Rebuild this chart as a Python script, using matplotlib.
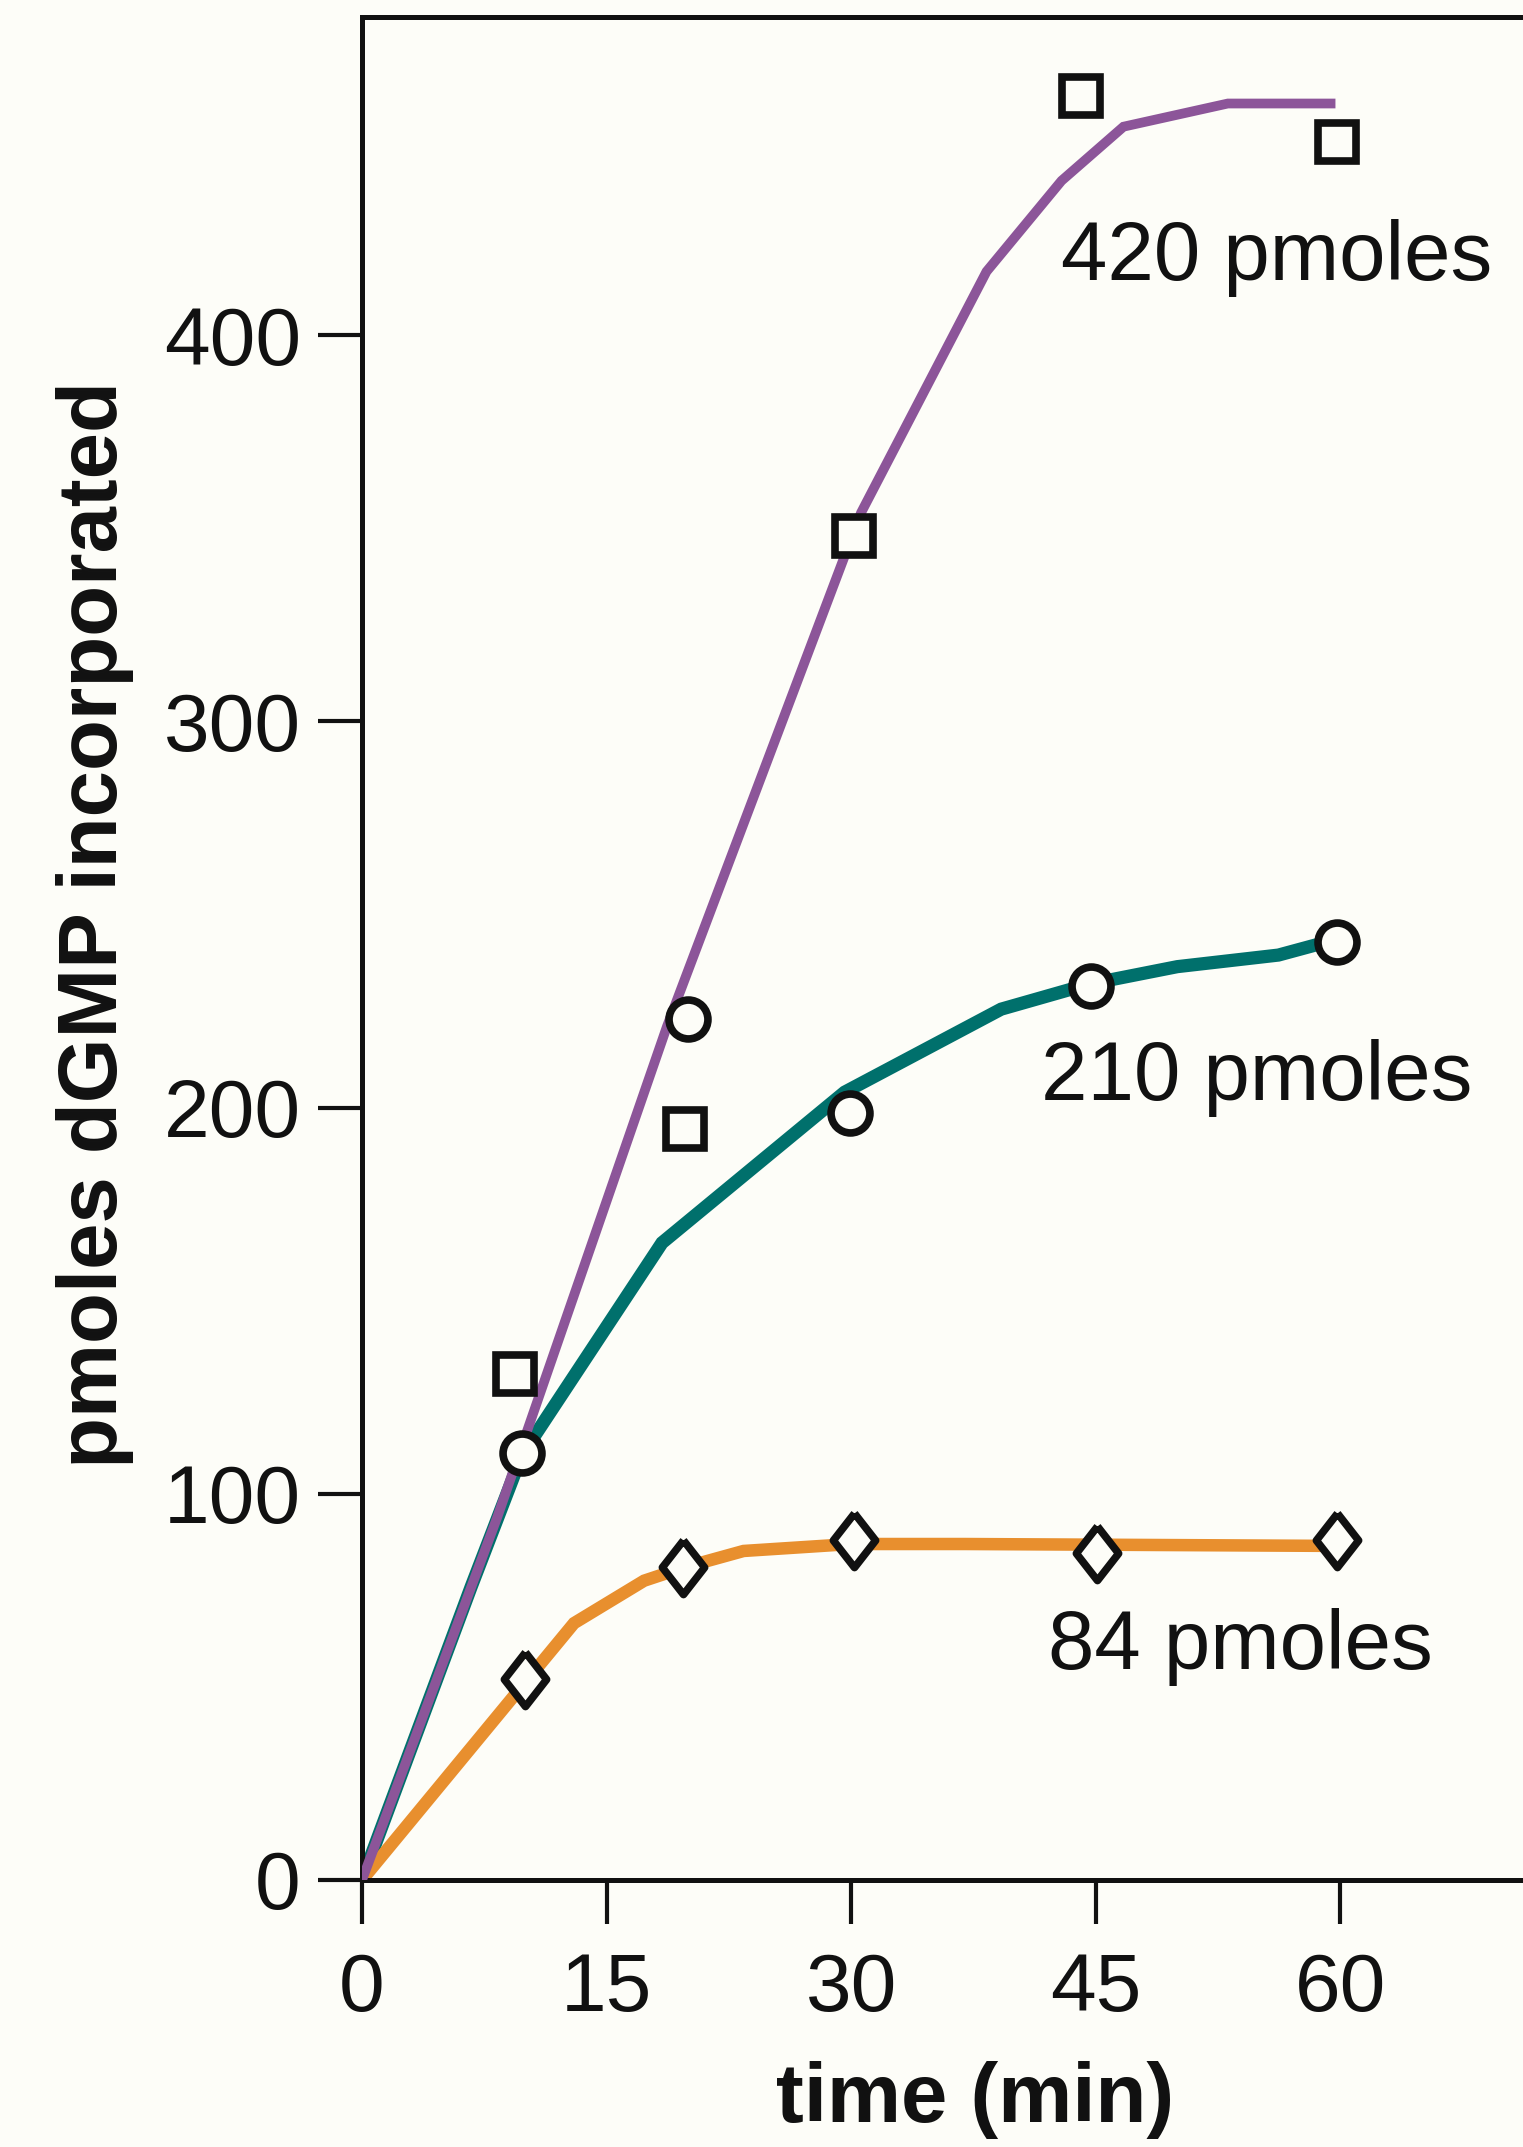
import matplotlib
matplotlib.use('Agg')
import matplotlib.pyplot as plt

# ---------------- data ----------------
# measured points
sq_t = [9.4, 19.8, 30.2, 44.1, 59.8]          # 420 pmoles (squares)
sq_v = [131, 194.5, 348, 462, 450]
ci_t = [9.8, 20.0, 29.9, 44.7, 59.8]          # 210 pmoles (circles)
ci_v = [110.5, 223, 198.5, 231.5, 243]
di_t = [10.0, 19.7, 30.2, 45.1, 59.8]         # 84 pmoles (diamonds)
di_v = [52, 81, 88, 84.6, 88]

# drawn curves
c420_t = [0, 8.3, 18.7, 30.6, 38.3, 42.9, 46.7, 53.1, 59.4]
c420_v = [0, 94, 221, 354, 416.5, 440, 454, 460, 460]
c210_t = [0, 6.7, 9.8, 18.4, 29.6, 39.2, 44.6, 50, 56.2, 59.7]
c210_v = [0, 76, 110, 165, 204, 225.5, 232, 236.5, 239.5, 243.5]
c84_t = [0, 13, 17.3, 19.8, 23.4, 30, 37, 60]
c84_v = [0, 66.5, 77.5, 81, 85.2, 87, 87, 86.5]

series_labels = ['420 pmoles', '210 pmoles', '84 pmoles']
x_ticks = [0, 15, 30, 45, 60]
y_ticks = [0, 100, 200, 300, 400]
x_title = 'time (min)'
y_title = 'pmoles dGMP incorporated'

# ---------------- styling ----------------
plt.rcParams['font.family'] = ['Liberation Sans', 'DejaVu Sans']
bg = '#fdfdf8'
purple = '#8c5599'
teal = '#00706c'
orange = '#e88f2e'
ink = '#111111'

fig = plt.figure(figsize=(15.23, 21.47), dpi=100, facecolor=bg)
ax = fig.add_axes([0.2377, 0.12436, 0.7623, 0.86772], facecolor=bg)

ax.plot(c210_t, c210_v, color=teal, lw=9.5, solid_joinstyle='miter', zorder=2)
ax.plot(c420_t, c420_v, color=purple, lw=7, solid_joinstyle='miter', zorder=3)
ax.plot(c84_t, c84_v, color=orange, lw=9, solid_joinstyle='miter', zorder=2)

diamond = [(0, 1), (0.78, 0), (0, -1), (-0.78, 0), (0, 1)]
mk = dict(ls='none', markerfacecolor=bg, markeredgecolor=ink, zorder=5, clip_on=False)
ax.plot(sq_t, sq_v, marker='s', ms=28, mew=5.5, **mk)
ax.plot(ci_t, ci_v, marker='o', ms=28, mew=5.5, **mk)
ax.plot(di_t, di_v, marker=diamond, ms=39, mew=5.5, **mk)

ax.text(42.85, 414.2, series_labels[0], fontsize=60, color=ink, va='baseline', ha='left')
ax.text(41.66, 201.9, series_labels[1], fontsize=60, color=ink, va='baseline', ha='left')
ax.text(42.1, 54.7, series_labels[2], fontsize=60, color=ink, va='baseline', ha='left')

ax.set_xlim(0, 71.2)
ax.set_ylim(0, 482.4)
ax.set_xticks(x_ticks)
ax.set_yticks(y_ticks)
ax.set_xticklabels([str(v) for v in x_ticks])
ax.set_yticklabels([str(v) for v in y_ticks])

for s in ['left', 'bottom', 'top']:
    ax.spines[s].set_linewidth(3.6)
    ax.spines[s].set_color(ink)
ax.spines['right'].set_visible(False)

ax.tick_params(axis='both', direction='out', length=32, width=3, color=ink,
               labelsize=59, labelcolor=ink)
ax.tick_params(axis='x', pad=20)
ax.tick_params(axis='y', pad=12)

ax.set_xlabel(x_title, fontsize=60, fontweight='bold', color=ink)
ax.xaxis.label.set_va('baseline')
ax.xaxis.set_label_coords(0.528, -0.1298)
ax.set_ylabel(y_title, fontsize=60, fontweight='bold', color=ink)
ax.yaxis.label.set_va('baseline')
ax.yaxis.set_label_coords(-0.211, 0.513)

fig.savefig('out.png', dpi=100, facecolor=bg)
